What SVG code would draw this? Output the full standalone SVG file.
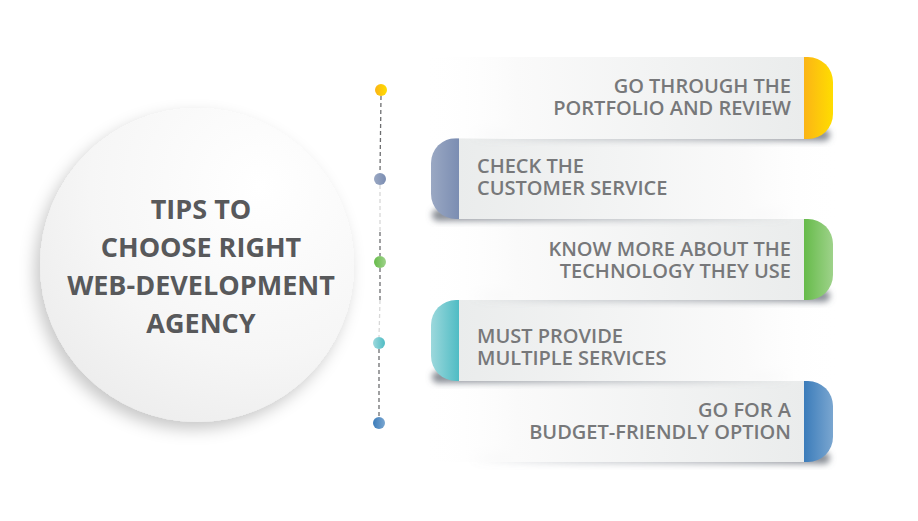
<svg xmlns="http://www.w3.org/2000/svg" width="918" height="521" viewBox="0 0 918 521">
<defs>
<style>
.t{font-family:"Open Sans","Liberation Sans",sans-serif;font-weight:600;font-size:20px;fill:#77787a}
.tr{text-anchor:end}
.c{font-family:"Open Sans","Liberation Sans",sans-serif;font-weight:700;font-size:27px;fill:#58595b;text-anchor:middle}
.dk{stroke:#6d6e70;stroke-width:1.3;stroke-dasharray:4 3;fill:none}
.lt{stroke:#d8d8d8;stroke-width:1.3;stroke-dasharray:4 3;fill:none}
</style>
<linearGradient id="bodyR" x1="0" y1="0" x2="1" y2="0">
<stop offset="0" stop-color="#ffffff" stop-opacity="0"/>
<stop offset="0.25" stop-color="#fafafa"/>
<stop offset="1" stop-color="#eaecec"/>
</linearGradient>
<linearGradient id="bodyL" x1="0" y1="0" x2="1" y2="0">
<stop offset="0" stop-color="#eaecec"/>
<stop offset="0.75" stop-color="#fafafa"/>
<stop offset="1" stop-color="#ffffff" stop-opacity="0"/>
</linearGradient>
<linearGradient id="shR" x1="0" y1="0" x2="1" y2="0">
<stop offset="0" stop-color="#8a909a" stop-opacity="0"/>
<stop offset="0.3" stop-color="#8a909a" stop-opacity="0.35"/>
<stop offset="1" stop-color="#6a707a" stop-opacity="0.8"/>
</linearGradient>
<linearGradient id="shL" x1="0" y1="0" x2="1" y2="0">
<stop offset="0" stop-color="#6a707a" stop-opacity="0.8"/>
<stop offset="0.7" stop-color="#8a909a" stop-opacity="0.35"/>
<stop offset="1" stop-color="#8a909a" stop-opacity="0"/>
</linearGradient>
<linearGradient id="gY" x1="0" y1="0" x2="1" y2="0"><stop offset="0" stop-color="#fbb416"/><stop offset="1" stop-color="#ffdd00"/></linearGradient>
<linearGradient id="gS" x1="0" y1="0" x2="1" y2="0"><stop offset="0" stop-color="#9aa8c3"/><stop offset="1" stop-color="#7b8db2"/></linearGradient>
<linearGradient id="gG" x1="0" y1="0" x2="1" y2="0"><stop offset="0" stop-color="#66bb4a"/><stop offset="1" stop-color="#9ed28a"/></linearGradient>
<linearGradient id="gT" x1="0" y1="0" x2="1" y2="0"><stop offset="0" stop-color="#9cd8dc"/><stop offset="1" stop-color="#4fbcc4"/></linearGradient>
<linearGradient id="gB" x1="0" y1="0" x2="1" y2="0"><stop offset="0" stop-color="#3b7cba"/><stop offset="1" stop-color="#7aa6d0"/></linearGradient>
<radialGradient id="circ" cx="0.7" cy="0.25" r="0.9">
<stop offset="0" stop-color="#ffffff"/>
<stop offset="0.6" stop-color="#f6f6f6"/>
<stop offset="1" stop-color="#ebebeb"/>
</radialGradient>
<filter id="blur" x="-10%" y="-50%" width="120%" height="200%"><feGaussianBlur stdDeviation="3"/></filter>
<filter id="cs" x="-20%" y="-20%" width="140%" height="140%">
<feDropShadow dx="-5" dy="7" stdDeviation="8" flood-color="#000" flood-opacity="0.22"/>
</filter>
</defs>
<rect width="918" height="521" fill="#ffffff"/>

<g id="center">
<circle cx="197" cy="265" r="157" fill="url(#circ)" filter="url(#cs)"/>
<text class="c" x="201" y="219">TIPS TO</text>
<text class="c" x="201" y="257">CHOOSE RIGHT</text>
<text class="c" x="201" y="295">WEB-DEVELOPMENT</text>
<text class="c" x="201" y="333">AGENCY</text>
</g>

<g id="connectors">
<line class="dk" x1="381" y1="96" x2="380" y2="173"/>
<line class="lt" x1="380" y1="185" x2="380" y2="232"/>
<line class="dk" x1="380" y1="232" x2="380" y2="256"/>
<line class="dk" x1="380" y1="268" x2="380" y2="300"/>
<line class="lt" x1="380" y1="300" x2="379" y2="337"/>
<line class="dk" x1="379" y1="349" x2="379" y2="417"/>
</g>

<g id="dots">
<circle id="dot1" cx="381" cy="90" r="6" fill="url(#gY)"/>
<circle id="dot2" cx="380" cy="179" r="6" fill="url(#gS)"/>
<circle id="dot3" cx="380" cy="262" r="6" fill="url(#gG)"/>
<circle id="dot4" cx="379" cy="343" r="6" fill="url(#gT)"/>
<circle id="dot5" cx="379" cy="423" r="6" fill="url(#gB)"/>
</g>

<g id="bar5">
<rect x="470" y="452" width="360" height="12" rx="6" fill="url(#shR)" filter="url(#blur)"/>
<rect x="420" y="381" width="385" height="81" fill="url(#bodyR)"/>
<path d="M804,381 H808 A25,25 0 0 1 833,406 V437 A25,25 0 0 1 808,462 H804 Z" fill="url(#gB)"/>
<text class="t tr" x="791" y="417">GO FOR A</text>
<text class="t tr" x="791" y="439">BUDGET-FRIENDLY OPTION</text>
</g>

<g id="bar4">
<rect x="432" y="371" width="360" height="12" rx="6" fill="url(#shL)" filter="url(#blur)"/>
<rect x="458" y="300" width="385" height="81" fill="url(#bodyL)"/>
<path d="M459,300 H456 A25,25 0 0 0 431,325 V356 A25,25 0 0 0 456,381 H459 Z" fill="url(#gT)"/>
<text class="t" x="477" y="343">MUST PROVIDE</text>
<text class="t" x="477" y="365">MULTIPLE SERVICES</text>
</g>

<g id="bar3">
<rect x="470" y="290" width="360" height="12" rx="6" fill="url(#shR)" filter="url(#blur)"/>
<rect x="420" y="219" width="385" height="81" fill="url(#bodyR)"/>
<path d="M804,219 H808 A25,25 0 0 1 833,244 V275 A25,25 0 0 1 808,300 H804 Z" fill="url(#gG)"/>
<text class="t tr" x="791" y="256">KNOW MORE ABOUT THE</text>
<text class="t tr" x="791" y="278">TECHNOLOGY THEY USE</text>
</g>

<g id="bar2">
<rect x="432" y="209" width="360" height="12" rx="6" fill="url(#shL)" filter="url(#blur)"/>
<rect x="458" y="138" width="385" height="81" fill="url(#bodyL)"/>
<path d="M459,138 H456 A25,25 0 0 0 431,163 V194 A25,25 0 0 0 456,219 H459 Z" fill="url(#gS)"/>
<text class="t" x="477" y="173">CHECK THE</text>
<text class="t" x="477" y="195">CUSTOMER SERVICE</text>
</g>

<g id="bar1">
<rect x="470" y="129" width="360" height="12" rx="6" fill="url(#shR)" filter="url(#blur)"/>
<rect x="420" y="57" width="385" height="82" fill="url(#bodyR)"/>
<path d="M804,57 H808 A25,25 0 0 1 833,82 V114 A25,25 0 0 1 808,139 H804 Z" fill="url(#gY)"/>
<text class="t tr" x="791" y="93">GO THROUGH THE</text>
<text class="t tr" x="791" y="115">PORTFOLIO AND REVIEW</text>
</g>
</svg>
